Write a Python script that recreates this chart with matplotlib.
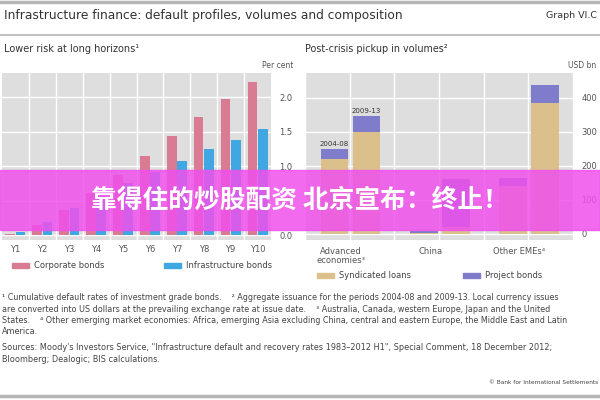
import matplotlib.pyplot as plt
import matplotlib.patches as mpatches
import numpy as np

plt.rcParams['font.family'] = ['DejaVu Sans']

# left panel: cumulative default rates, per cent
years = ['Y1', 'Y2', 'Y3', 'Y4', 'Y5', 'Y6', 'Y7', 'Y8', 'Y9', 'Y10']
corporate = [0.02, 0.15, 0.36, 0.61, 0.87, 1.15, 1.43, 1.71, 1.97, 2.22]
infrastructure = [0.04, 0.19, 0.39, 0.57, 0.75, 0.91, 1.07, 1.25, 1.38, 1.54]

# right panel: issuance, USD bn
regions = ['Advanced\neconomies\u00b3', 'China', 'Other EMEs\u2074']
periods = ['2004-08', '2009-13']
syndicated = {'2004-08': [220, 4, 141], '2009-13': [300, 20, 385]}
project = {'2004-08': [30, 5, 24], '2009-13': [47, 140, 53]}

c_corp = '#d87b93'
c_infra = '#3fa7e1'
c_synd = '#dcc08c'
c_proj = '#7f7ccb'
bg = '#dedede'
tick_c = '#555555'

fig = plt.figure(figsize=(6, 4), dpi=100)
W, H = 600, 400

def box(x0, y0, x1, y1):
    return [x0 / W, 1 - y1 / H, (x1 - x0) / W, (y1 - y0) / H]

# header
fig.add_artist(plt.Line2D([0, 1], [1 - 1.5 / H] * 2, color='#b5b5b5', lw=2.5))
fig.add_artist(plt.Line2D([0, 1], [1 - 35 / H] * 2, color='#b5b5b5', lw=1.2))
fig.add_artist(plt.Line2D([0, 1], [1 - 396 / H] * 2, color='#b5b5b5', lw=2.5))
fig.text(4 / W, 1 - 16 / H, 'Infrastructure finance: default profiles, volumes and composition',
         fontsize=8.8, color='#333333', va='center')
fig.text(597 / W, 1 - 16 / H, 'Graph VI.C', fontsize=6.8, color='#333333', va='center', ha='right')
fig.text(4 / W, 1 - 49 / H, 'Lower risk at long horizons\u00b9', fontsize=7.0, color='#333333', va='center')
fig.text(305 / W, 1 - 49 / H, 'Post-crisis pickup in volumes\u00b2', fontsize=6.9, color='#333333', va='center')
fig.text(293 / W, 1 - 66 / H, 'Per cent', fontsize=5.5, color=tick_c, va='center', ha='right')
fig.text(596 / W, 1 - 66 / H, 'USD bn', fontsize=5.5, color=tick_c, va='center', ha='right')

def style(ax):
    ax.set_facecolor(bg)
    for s in ax.spines.values():
        s.set_visible(False)
    ax.yaxis.tick_right()
    ax.tick_params(axis='both', length=0, labelsize=6.0, colors=tick_c)
    ax.tick_params(axis='y', pad=6)
    ax.grid(True, which='minor', axis='x', color='white', lw=1.0)
    ax.grid(True, which='major', axis='y', color='white', lw=1.0)
    ax.set_axisbelow(True)

# left
ax1 = fig.add_axes(box(2, 73, 271, 240))
style(ax1)
x = np.arange(len(years))
w = 0.36
ax1.bar(x - 0.19, corporate, w, color=c_corp)
ax1.bar(x + 0.19, infrastructure, w, color=c_infra)
ax1.set_xlim(-0.5, 9.5)
ax1.set_ylim(-0.07, 2.35)
ax1.set_xticks(x)
ax1.set_xticklabels(years)
ax1.set_xticks(np.arange(0.5, 9.5, 1), minor=True)
ax1.tick_params(axis='x', which='minor', length=0)
ax1.set_yticks([0, 0.5, 1.0, 1.5, 2.0])
ax1.set_yticklabels(['0.0', '0.5', '1.0', '1.5', '2.0'])

# right
ax2 = fig.add_axes(box(305, 73, 573, 240))
style(ax2)
xr = np.arange(len(regions))
wr = 0.31
for off, p in zip([-0.17, 0.19], periods):
    ax2.bar(xr + off, syndicated[p], wr, color=c_synd)
    ax2.bar(xr + off, project[p], wr, bottom=syndicated[p], color=c_proj)
    top = syndicated[p][0] + project[p][0]
    ax2.text(off, top + 6, p, fontsize=5.0, color='#333333', ha='center', va='bottom')
ax2.set_xlim(-0.5, 2.5)
ax2.set_ylim(-18, 473)
ax2.set_xticks(xr - 0.1)
ax2.set_xticklabels(regions, fontsize=6.0, linespacing=1.0)
ax2.set_xticks(np.arange(-0.5, 3.0, 0.5), minor=True)
ax2.tick_params(axis='x', which='minor', length=0)
ax2.tick_params(axis='x', pad=5)
ax2.set_yticks([0, 100, 200, 300, 400])

# legends
def legend_item(x0, y0, color, label):
    fig.add_artist(mpatches.Rectangle((x0 / W, 1 - (y0 + 2.5) / H), 17 / W, 5 / H,
                                      color=color, transform=fig.transFigure))
    fig.text((x0 + 22) / W, 1 - y0 / H, label, fontsize=6.0, color='#444444', va='center')

legend_item(12, 265, c_corp, 'Corporate bonds')
legend_item(164, 265, c_infra, 'Infrastructure bonds')
legend_item(317, 275, c_synd, 'Syndicated loans')
legend_item(463, 275, c_proj, 'Project bonds')

# footnotes
notes = [
    '\u00b9 Cumulative default rates of investment grade bonds.    \u00b2 Aggregate issuance for the periods 2004-08 and 2009-13. Local currency issues',
    'are converted into US dollars at the prevailing exchange rate at issue date.    \u00b3 Australia, Canada, western Europe, Japan and the United',
    'States.    \u2074 Other emerging market economies: Africa, emerging Asia excluding China, central and eastern Europe, the Middle East and Latin',
    'America.',
]
for i, t in enumerate(notes):
    fig.text(2 / W, 1 - (298 + i * 11.2) / H, t, fontsize=5.75, color='#444444', va='center')
fig.text(2 / W, 1 - 348 / H,
         'Sources: Moody\'s Investors Service, "Infrastructure default and recovery rates 1983\u20132012 H1", '
         'Special Comment, 18 December 2012;', fontsize=5.9, color='#444444', va='center')
fig.text(2 / W, 1 - 359 / H, 'Bloomberg; Dealogic; BIS calculations.', fontsize=5.9, color='#444444', va='center')
fig.text(598 / W, 1 - 383 / H, '\u00a9 Bank for International Settlements', fontsize=4.2,
         color='#444444', va='center', ha='right')

# overlay banner
fig.add_artist(mpatches.Rectangle((0, 1 - 230 / H), 1, 60 / H, color='#f050ec', alpha=0.85,
                                  transform=fig.transFigure, zorder=10))
fig.text(300 / W, 1 - 200 / H, '靠得住的炒股配资 北京宣布：终止！', fontsize=18.5, fontweight='bold',
         color='white', ha='center', va='center', zorder=11,
         family=['Noto Sans CJK SC', 'DejaVu Sans'])

fig.savefig('out.png', dpi=100)
